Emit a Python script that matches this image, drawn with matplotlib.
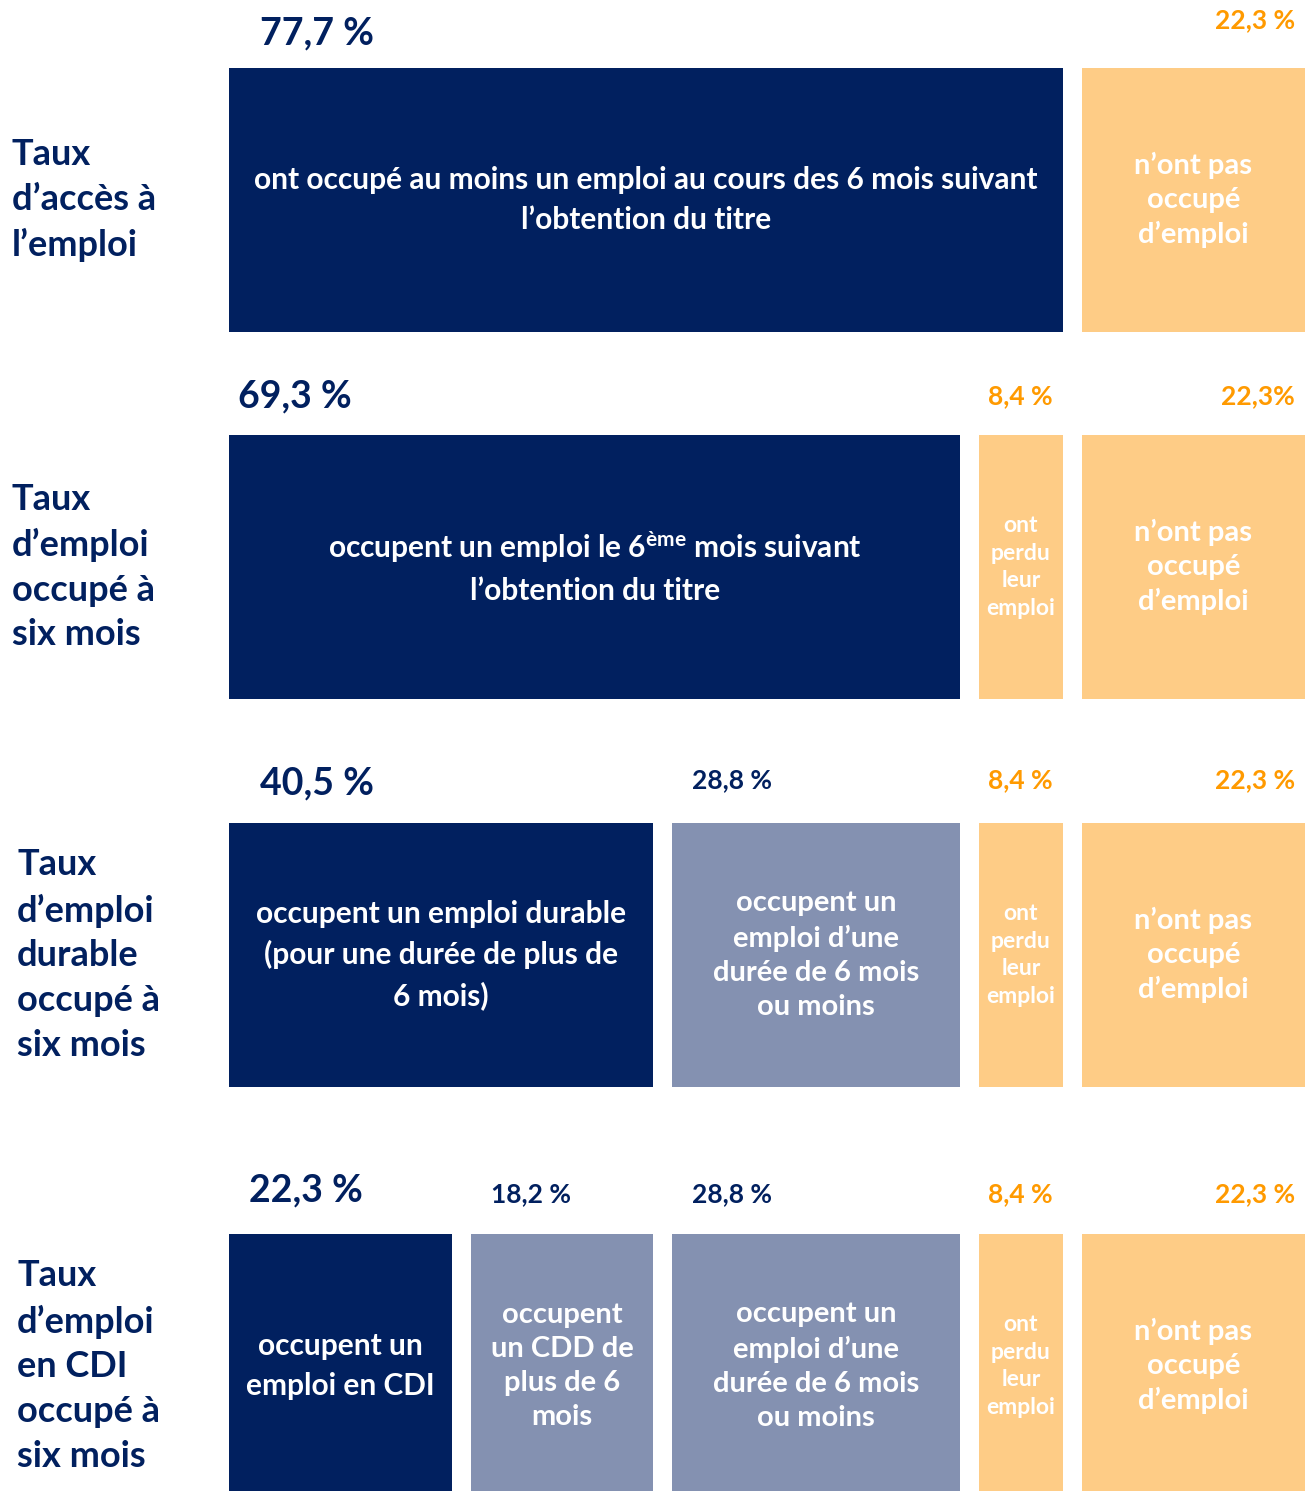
import matplotlib
matplotlib.use("Agg")
import matplotlib.pyplot as plt
import numpy as np
from matplotlib.transforms import blended_transform_factory, offset_copy

plt.rcParams['font.family'] = ['Lato', 'DejaVu Sans']
plt.rcParams['font.weight'] = 'bold'
plt.rcParams['mathtext.fontset'] = 'custom'
plt.rcParams['mathtext.rm'] = 'Lato:bold'
plt.rcParams['mathtext.it'] = 'Lato:bold'
plt.rcParams['mathtext.bf'] = 'Lato:bold'

NAVY = '#01205F'
GREY = '#8491B1'
PEACH = '#FECC86'
ORANGE = '#FF9A00'

# ---- data ----
row_titles = [
    "Taux\nd’accès à\nl’emploi",
    "Taux\nd’emploi\noccupé à\nsix mois",
    "Taux\nd’emploi\ndurable\noccupé à\nsix mois",
    "Taux\nd’emploi\nen CDI\noccupé à\nsix mois",
]

row1_values = [77.7, 22.3]
row2_values = [69.3, 8.4, 22.3]
row3_values = [40.5, 28.8, 8.4, 22.3]
row4_values = [22.3, 18.2, 28.8, 8.4, 22.3]

row1_labels = ["77,7 %", "22,3 %"]
row2_labels = ["69,3 %", "8,4 %", "22,3%"]
row3_labels = ["40,5 %", "28,8 %", "8,4 %", "22,3 %"]
row4_labels = ["22,3 %", "18,2 %", "28,8 %", "8,4 %", "22,3 %"]

row1_kinds = ["emp", "non"]
row2_kinds = ["emp", "lost", "non"]
row3_kinds = ["emp", "short", "lost", "non"]
row4_kinds = ["emp", "cdd", "short", "lost", "non"]

TXT_NON = "n’ont pas\noccupé\nd’emploi"
TXT_LOST = "ont\nperdu\nleur\nemploi"
TXT_SHORT = "occupent un\nemploi d’une\ndurée de 6 mois\nou moins"
row1_texts = ["ont occupé au moins un emploi au cours des 6 mois suivant\nl’obtention du titre", TXT_NON]
row2_texts = ["occupent un emploi le 6$^{\\mathrm{ème}}$ mois suivant\nl’obtention du titre", TXT_LOST, TXT_NON]
row3_texts = ["occupent un emploi durable\n(pour une durée de plus de\n6 mois)", TXT_SHORT, TXT_LOST, TXT_NON]
row4_texts = ["occupent un\nemploi en CDI", "occupent\nun CDD de\nplus de 6\nmois", TXT_SHORT, TXT_LOST, TXT_NON]

rows_values = [row1_values, row2_values, row3_values, row4_values]
rows_labels = [row1_labels, row2_labels, row3_labels, row4_labels]
rows_kinds = [row1_kinds, row2_kinds, row3_kinds, row4_kinds]
rows_texts = [row1_texts, row2_texts, row3_texts, row4_texts]

# ---- layout ----
W, H = 1305, 1491
GAP = 1.85  # gap between columns in % units
base_ends = np.cumsum(row4_values)
row_tops = [68, 435, 823, 1234]
BAR_H = 264
big_dx = [31, 9, 31, 20]
big_dy = [35, 39, 40, 44]
small_dy = [48, 39, 43, 40]
title_dx = [12, 12, 17, 17]

fill = {"emp": NAVY, "cdd": GREY, "short": GREY, "lost": PEACH, "non": PEACH}
text_size = {"emp": 21.5, "cdd": 21, "short": 21, "lost": 16.5, "non": 21}
text_ls = {"emp": 1.5, "cdd": 1.38, "short": 1.38, "lost": 1.4, "non": 1.38}

fig = plt.figure(figsize=(W / 100, H / 100), dpi=100)
ax = fig.add_axes([229 / W, 0, 1 - 229 / W, 1])
ax.set_xlim(0, 100 + 4 * GAP)
ax.set_ylim(H, 0)
ax.axis('off')

for r, (vals, labs, kinds, texts) in enumerate(zip(rows_values, rows_labels, rows_kinds, rows_texts)):
    top = row_tops[r]
    cum = 0.0
    for j, (v, lab, kind, txt) in enumerate(zip(vals, labs, kinds, texts)):
        c0, c1 = cum, cum + v
        k0 = np.sum(base_ends <= c0 + 1e-6)
        k1 = np.sum(base_ends < c1 - 1e-6)
        left = c0 + GAP * k0
        right = c1 + GAP * k1
        ax.barh(top + BAR_H / 2, right - left, left=left, height=BAR_H,
                color=fill[kind], edgecolor='none')
        cx = (left + right) / 2
        ax.text(cx, top + BAR_H / 2, txt, ha='center', va='center', color='white',
                fontsize=text_size[kind], fontweight='bold', linespacing=text_ls[kind])
        # value labels
        if kind == "emp":
            tr = offset_copy(ax.transData, fig=fig, x=big_dx[r], y=0, units='dots')
            ax.text(left, top - big_dy[r], lab, ha='left', va='center', color=NAVY,
                    fontsize=27, fontweight='bold', transform=tr)
        elif kind in ("cdd", "short"):
            tr = offset_copy(ax.transData, fig=fig, x=20, y=0, units='dots')
            ax.text(left, top - small_dy[r], lab, ha='left', va='center', color=NAVY,
                    fontsize=19, fontweight='bold', transform=tr)
        else:
            tr = offset_copy(ax.transData, fig=fig, x=-10, y=0, units='dots')
            ax.text(right, top - small_dy[r], lab, ha='right', va='center',
                    color=ORANGE, fontsize=19, fontweight='bold', transform=tr)
        cum = c1
    # row titles
    ytr = blended_transform_factory(fig.transFigure, ax.transData)
    ax.text(title_dx[r] / W, top + BAR_H / 2, row_titles[r], ha='left', va='center', color=NAVY,
            fontsize=26, fontweight='bold', linespacing=1.43, transform=ytr, clip_on=False)

fig.savefig("out.png", dpi=100, facecolor='white')
